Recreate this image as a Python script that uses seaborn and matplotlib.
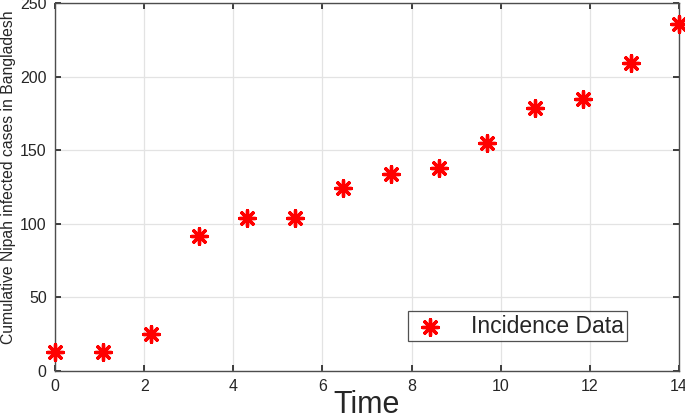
import numpy as np
import pandas as pd
import seaborn as sns
import matplotlib
matplotlib.use("Agg")
import matplotlib.pyplot as plt

# data
time = [0, 1.08, 2.15, 3.23, 4.31, 5.38, 6.46, 7.54, 8.62, 9.69, 10.77, 11.85, 12.92, 14]
cases = [13, 13, 25, 92, 104, 104, 124, 134, 138, 155, 179, 185, 209, 236]
x_ticks = [0, 2, 4, 6, 8, 10, 12, 14]
y_ticks = [0, 50, 100, 150, 200, 250]

df = pd.DataFrame({"Time": time, "Cases": cases})

sns.set_theme(style="whitegrid")
plt.rcParams['font.family'] = ['Liberation Sans', 'DejaVu Sans']

fig = plt.figure(figsize=(6.85, 4.19), dpi=100)
ax = fig.add_axes([55/685, 48/419, 624/685, 368/419])

sns.scatterplot(data=df, x="Time", y="Cases", ax=ax, marker=(8, 2, 0), s=130,
                color="#ff0000", edgecolor="#ff0000", linewidth=2.4,
                label="Incidence Data", clip_on=False, zorder=3)

ax.set_xlim(0, 14)
ax.set_ylim(0, 250)
ax.set_xticks(x_ticks)
ax.set_yticks(y_ticks)
ax.tick_params(direction="in", length=4, labelsize=11.5, colors="#262626",
               top=True, right=True, bottom=True, left=True, pad=6)
ax.grid(True, color="#e3e3e3", linewidth=0.9)
for s in ax.spines.values():
    s.set_color("#4d4d4d")
    s.set_linewidth(1.0)

ax.set_xlabel("Time", fontsize=22, labelpad=-3)
ax.set_ylabel("Cumulative Nipah infected cases in Bangladesh", fontsize=11.3)
ax.yaxis.set_label_coords(-0.063, 0.527)

leg = ax.legend(loc="lower left", bbox_to_anchor=(353/624, 30/368),
                fontsize=16.5, frameon=True, fancybox=False, borderpad=0.15,
                borderaxespad=0, handletextpad=1.0, handlelength=1.6,
                markerscale=1.0)
leg.get_frame().set_edgecolor("#262626")
leg.get_frame().set_linewidth(0.9)

fig.savefig("out.png", dpi=100)
